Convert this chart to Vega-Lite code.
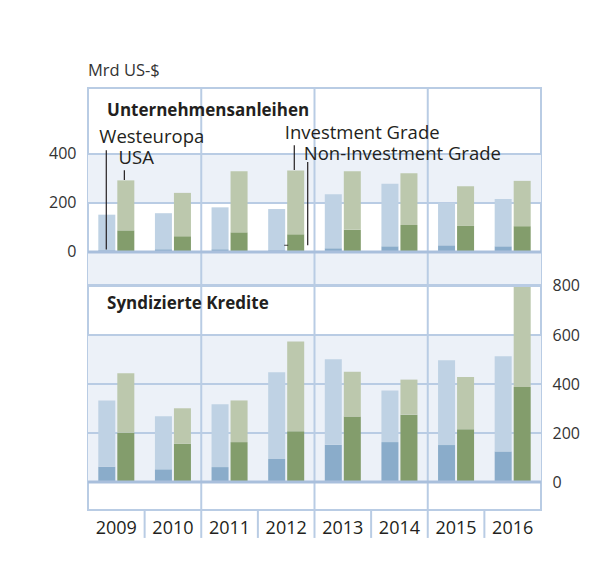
{
  "$schema": "https://vega.github.io/schema/vega-lite/v6.json",
  "autosize": {"type": "pad"},
  "padding": {"left": 47, "top": 61, "right": 10, "bottom": 10},
  "background": "white",
  "config": {
    "font": "Open Sans",
    "view": {"stroke": "#b9cce4", "strokeWidth": 2},
    "axis": {"labelColor": "#333", "labelFont": "Open Sans"}
  },
  "datasets": {
    "bars": [
      {"panel": "Unternehmensanleihen", "year": "2009", "region": "Westeuropa", "grade": "Non-Investment Grade", "value": 7},
      {"panel": "Unternehmensanleihen", "year": "2009", "region": "Westeuropa", "grade": "Investment Grade", "value": 145},
      {"panel": "Unternehmensanleihen", "year": "2009", "region": "USA", "grade": "Non-Investment Grade", "value": 88},
      {"panel": "Unternehmensanleihen", "year": "2009", "region": "USA", "grade": "Investment Grade", "value": 204},
      {"panel": "Unternehmensanleihen", "year": "2010", "region": "Westeuropa", "grade": "Non-Investment Grade", "value": 11},
      {"panel": "Unternehmensanleihen", "year": "2010", "region": "Westeuropa", "grade": "Investment Grade", "value": 147},
      {"panel": "Unternehmensanleihen", "year": "2010", "region": "USA", "grade": "Non-Investment Grade", "value": 64},
      {"panel": "Unternehmensanleihen", "year": "2010", "region": "USA", "grade": "Investment Grade", "value": 177},
      {"panel": "Unternehmensanleihen", "year": "2011", "region": "Westeuropa", "grade": "Non-Investment Grade", "value": 11},
      {"panel": "Unternehmensanleihen", "year": "2011", "region": "Westeuropa", "grade": "Investment Grade", "value": 171},
      {"panel": "Unternehmensanleihen", "year": "2011", "region": "USA", "grade": "Non-Investment Grade", "value": 80},
      {"panel": "Unternehmensanleihen", "year": "2011", "region": "USA", "grade": "Investment Grade", "value": 249},
      {"panel": "Unternehmensanleihen", "year": "2012", "region": "Westeuropa", "grade": "Non-Investment Grade", "value": 7},
      {"panel": "Unternehmensanleihen", "year": "2012", "region": "Westeuropa", "grade": "Investment Grade", "value": 168},
      {"panel": "Unternehmensanleihen", "year": "2012", "region": "USA", "grade": "Non-Investment Grade", "value": 72},
      {"panel": "Unternehmensanleihen", "year": "2012", "region": "USA", "grade": "Investment Grade", "value": 260},
      {"panel": "Unternehmensanleihen", "year": "2013", "region": "Westeuropa", "grade": "Non-Investment Grade", "value": 15},
      {"panel": "Unternehmensanleihen", "year": "2013", "region": "Westeuropa", "grade": "Investment Grade", "value": 220},
      {"panel": "Unternehmensanleihen", "year": "2013", "region": "USA", "grade": "Non-Investment Grade", "value": 91},
      {"panel": "Unternehmensanleihen", "year": "2013", "region": "USA", "grade": "Investment Grade", "value": 238},
      {"panel": "Unternehmensanleihen", "year": "2014", "region": "Westeuropa", "grade": "Non-Investment Grade", "value": 23},
      {"panel": "Unternehmensanleihen", "year": "2014", "region": "Westeuropa", "grade": "Investment Grade", "value": 255},
      {"panel": "Unternehmensanleihen", "year": "2014", "region": "USA", "grade": "Non-Investment Grade", "value": 110},
      {"panel": "Unternehmensanleihen", "year": "2014", "region": "USA", "grade": "Investment Grade", "value": 211},
      {"panel": "Unternehmensanleihen", "year": "2015", "region": "Westeuropa", "grade": "Non-Investment Grade", "value": 27},
      {"panel": "Unternehmensanleihen", "year": "2015", "region": "Westeuropa", "grade": "Investment Grade", "value": 174},
      {"panel": "Unternehmensanleihen", "year": "2015", "region": "USA", "grade": "Non-Investment Grade", "value": 106},
      {"panel": "Unternehmensanleihen", "year": "2015", "region": "USA", "grade": "Investment Grade", "value": 162},
      {"panel": "Unternehmensanleihen", "year": "2016", "region": "Westeuropa", "grade": "Non-Investment Grade", "value": 23},
      {"panel": "Unternehmensanleihen", "year": "2016", "region": "Westeuropa", "grade": "Investment Grade", "value": 193},
      {"panel": "Unternehmensanleihen", "year": "2016", "region": "USA", "grade": "Non-Investment Grade", "value": 105},
      {"panel": "Unternehmensanleihen", "year": "2016", "region": "USA", "grade": "Investment Grade", "value": 185},
      {"panel": "Syndizierte Kredite", "year": "2009", "region": "Westeuropa", "grade": "Non-Investment Grade", "value": 63},
      {"panel": "Syndizierte Kredite", "year": "2009", "region": "Westeuropa", "grade": "Investment Grade", "value": 270},
      {"panel": "Syndizierte Kredite", "year": "2009", "region": "USA", "grade": "Non-Investment Grade", "value": 201},
      {"panel": "Syndizierte Kredite", "year": "2009", "region": "USA", "grade": "Investment Grade", "value": 243},
      {"panel": "Syndizierte Kredite", "year": "2010", "region": "Westeuropa", "grade": "Non-Investment Grade", "value": 52},
      {"panel": "Syndizierte Kredite", "year": "2010", "region": "Westeuropa", "grade": "Investment Grade", "value": 216},
      {"panel": "Syndizierte Kredite", "year": "2010", "region": "USA", "grade": "Non-Investment Grade", "value": 156},
      {"panel": "Syndizierte Kredite", "year": "2010", "region": "USA", "grade": "Investment Grade", "value": 145},
      {"panel": "Syndizierte Kredite", "year": "2011", "region": "Westeuropa", "grade": "Non-Investment Grade", "value": 61},
      {"panel": "Syndizierte Kredite", "year": "2011", "region": "Westeuropa", "grade": "Investment Grade", "value": 256},
      {"panel": "Syndizierte Kredite", "year": "2011", "region": "USA", "grade": "Non-Investment Grade", "value": 163},
      {"panel": "Syndizierte Kredite", "year": "2011", "region": "USA", "grade": "Investment Grade", "value": 170},
      {"panel": "Syndizierte Kredite", "year": "2012", "region": "Westeuropa", "grade": "Non-Investment Grade", "value": 94},
      {"panel": "Syndizierte Kredite", "year": "2012", "region": "Westeuropa", "grade": "Investment Grade", "value": 354},
      {"panel": "Syndizierte Kredite", "year": "2012", "region": "USA", "grade": "Non-Investment Grade", "value": 207},
      {"panel": "Syndizierte Kredite", "year": "2012", "region": "USA", "grade": "Investment Grade", "value": 366},
      {"panel": "Syndizierte Kredite", "year": "2013", "region": "Westeuropa", "grade": "Non-Investment Grade", "value": 152},
      {"panel": "Syndizierte Kredite", "year": "2013", "region": "Westeuropa", "grade": "Investment Grade", "value": 349},
      {"panel": "Syndizierte Kredite", "year": "2013", "region": "USA", "grade": "Non-Investment Grade", "value": 267},
      {"panel": "Syndizierte Kredite", "year": "2013", "region": "USA", "grade": "Investment Grade", "value": 183},
      {"panel": "Syndizierte Kredite", "year": "2014", "region": "Westeuropa", "grade": "Non-Investment Grade", "value": 163},
      {"panel": "Syndizierte Kredite", "year": "2014", "region": "Westeuropa", "grade": "Investment Grade", "value": 211},
      {"panel": "Syndizierte Kredite", "year": "2014", "region": "USA", "grade": "Non-Investment Grade", "value": 275},
      {"panel": "Syndizierte Kredite", "year": "2014", "region": "USA", "grade": "Investment Grade", "value": 143},
      {"panel": "Syndizierte Kredite", "year": "2015", "region": "Westeuropa", "grade": "Non-Investment Grade", "value": 151},
      {"panel": "Syndizierte Kredite", "year": "2015", "region": "Westeuropa", "grade": "Investment Grade", "value": 346},
      {"panel": "Syndizierte Kredite", "year": "2015", "region": "USA", "grade": "Non-Investment Grade", "value": 215},
      {"panel": "Syndizierte Kredite", "year": "2015", "region": "USA", "grade": "Investment Grade", "value": 214},
      {"panel": "Syndizierte Kredite", "year": "2016", "region": "Westeuropa", "grade": "Non-Investment Grade", "value": 125},
      {"panel": "Syndizierte Kredite", "year": "2016", "region": "Westeuropa", "grade": "Investment Grade", "value": 388},
      {"panel": "Syndizierte Kredite", "year": "2016", "region": "USA", "grade": "Non-Investment Grade", "value": 388},
      {"panel": "Syndizierte Kredite", "year": "2016", "region": "USA", "grade": "Investment Grade", "value": 408}
    ]
  },
  "spacing": 0,
  "bounds": "flush",
  "vconcat": [
    {
      "width": 453,
      "height": 197,
      "title": {"text": "Mrd US-$", "anchor": "start", "frame": "group", "fontSize": 16.5, "fontWeight": "normal", "color": "#333", "offset": 8},
      "resolve": {"scale": {"color": "independent"}},
      "layer": [
        {
          "data": {"values": [{"lo": 200, "hi": 400}, {"lo": -135, "hi": 0}]},
          "mark": {"type": "rect", "color": "#ecf1f8"},
          "encoding": {
            "y": {"field": "lo", "type": "quantitative", "scale": {"domain": [-135, 669], "nice": false, "zero": false},
                  "axis": {"values": [0, 200, 400], "grid": false, "domain": false, "ticks": false, "labelPadding": 12, "labelFontSize": 16, "title": null}},
            "y2": {"field": "hi"}
          }
        },
        {
          "data": {"values": [{"v": 200}, {"v": 400}]},
          "mark": {"type": "rule", "color": "#b9cce4", "strokeWidth": 2},
          "encoding": {"y": {"field": "v", "type": "quantitative"}}
        },
        {
          "data": {"values": [{"year": "2011"}, {"year": "2013"}, {"year": "2015"}]},
          "mark": {"type": "rule", "color": "#b9cce4", "strokeWidth": 2},
          "encoding": {"x": {"field": "year", "type": "ordinal", "bandPosition": 0, "scale": {"domain": ["2009","2010","2011","2012","2013","2014","2015","2016"], "paddingInner": 0, "paddingOuter": 0}, "axis": null}}
        },
        {
          "data": {"name": "bars"},
          "transform": [{"filter": "datum.panel == 'Unternehmensanleihen' && datum.region == 'Westeuropa'"}],
          "mark": {"type": "bar"},
          "encoding": {
            "x": {"field": "year", "type": "ordinal", "axis": null},
            "xOffset": {"field": "region", "scale": {"domain": ["Westeuropa", "USA"], "paddingInner": 0.105, "paddingOuter": 0.542}},
            "y": {"field": "value", "type": "quantitative", "stack": "zero"},
            "color": {"field": "grade", "scale": {"domain": ["Investment Grade", "Non-Investment Grade"], "range": ["#bfd2e4", "#8aacca"]}, "legend": null},
            "order": {"field": "grade", "sort": "descending"}
          }
        },
        {
          "data": {"name": "bars"},
          "transform": [{"filter": "datum.panel == 'Unternehmensanleihen' && datum.region == 'USA'"}],
          "mark": {"type": "bar"},
          "encoding": {
            "x": {"field": "year", "type": "ordinal", "axis": null},
            "xOffset": {"field": "region", "scale": {"domain": ["Westeuropa", "USA"], "paddingInner": 0.105, "paddingOuter": 0.542}},
            "y": {"field": "value", "type": "quantitative", "stack": "zero"},
            "color": {"field": "grade", "scale": {"domain": ["Investment Grade", "Non-Investment Grade"], "range": ["#bcc8ad", "#839d6c"]}, "legend": null},
            "order": {"field": "grade", "sort": "descending"}
          }
        },
        {
          "data": {"values": [{"v": 0}]},
          "mark": {"type": "rule", "color": "#a9bfdc", "strokeWidth": 3},
          "encoding": {"y": {"field": "v", "type": "quantitative"}}
        },
        {
          "data": {"values": [{"year": "2009", "label": "Unternehmensanleihen"}]},
          "mark": {"type": "text", "align": "left", "baseline": "middle", "fontSize": 17, "fontWeight": "bold", "color": "#231f20"},
          "encoding": {"x": {"field": "year", "type": "ordinal", "bandPosition": 0.336}, "y": {"datum": 575}, "text": {"field": "label"}}
        },
        {
          "data": {"values": [{"year": "2009", "label": "Westeuropa"}]},
          "mark": {"type": "text", "align": "left", "baseline": "middle", "fontSize": 18.5, "color": "#231f20"},
          "encoding": {"x": {"field": "year", "type": "ordinal", "bandPosition": 0.2}, "y": {"datum": 471}, "text": {"field": "label"}}
        },
        {
          "data": {"values": [{"year": "2009", "label": "USA"}]},
          "mark": {"type": "text", "align": "left", "baseline": "middle", "fontSize": 18.5, "color": "#231f20"},
          "encoding": {"x": {"field": "year", "type": "ordinal", "bandPosition": 0.54}, "y": {"datum": 384}, "text": {"field": "label"}}
        },
        {
          "data": {"values": [{"year": "2012", "label": "Investment Grade"}]},
          "mark": {"type": "text", "align": "left", "baseline": "middle", "fontSize": 18.5, "color": "#231f20"},
          "encoding": {"x": {"field": "year", "type": "ordinal", "bandPosition": 0.475}, "y": {"datum": 484}, "text": {"field": "label"}}
        },
        {
          "data": {"values": [{"year": "2012", "label": "Non-Investment Grade"}]},
          "mark": {"type": "text", "align": "left", "baseline": "middle", "fontSize": 18.5, "color": "#231f20"},
          "encoding": {"x": {"field": "year", "type": "ordinal", "bandPosition": 0.81}, "y": {"datum": 400}, "text": {"field": "label"}}
        },
        {
          "data": {"values": [{"year": "2009"}]},
          "mark": {"type": "rule", "color": "#231f20", "strokeWidth": 1.2},
          "encoding": {"x": {"field": "year", "type": "ordinal", "bandPosition": 0.323}, "y": {"datum": 415}, "y2": {"datum": 10}}
        },
        {
          "data": {"values": [{"year": "2009"}]},
          "mark": {"type": "rule", "color": "#231f20", "strokeWidth": 1.2},
          "encoding": {"x": {"field": "year", "type": "ordinal", "bandPosition": 0.642}, "y": {"datum": 333}, "y2": {"datum": 294}}
        },
        {
          "data": {"values": [{"year": "2012"}]},
          "mark": {"type": "rule", "color": "#231f20", "strokeWidth": 1.2},
          "encoding": {"x": {"field": "year", "type": "ordinal", "bandPosition": 0.643}, "y": {"datum": 435}, "y2": {"datum": 334}}
        },
        {
          "data": {"values": [{"year": "2012"}]},
          "mark": {"type": "rule", "color": "#231f20", "strokeWidth": 1.2},
          "encoding": {"x": {"field": "year", "type": "ordinal", "bandPosition": 0.88}, "y": {"datum": 367}, "y2": {"datum": 27}}
        },
        {
          "data": {"values": [{"year": "2012"}]},
          "mark": {"type": "tick", "orient": "horizontal", "size": 4, "thickness": 1.2, "color": "#231f20"},
          "encoding": {"x": {"field": "year", "type": "ordinal", "bandPosition": 0.849}, "y": {"datum": 27}}
        }
      ]
    },
    {
      "width": 453,
      "height": 225,
      "resolve": {"scale": {"color": "independent"}},
      "layer": [
        {
          "data": {"values": [{"lo": 0, "hi": 600}]},
          "mark": {"type": "rect", "color": "#ecf1f8"},
          "encoding": {
            "y": {"field": "lo", "type": "quantitative", "scale": {"domain": [-114, 804], "nice": false, "zero": false},
                  "axis": {"orient": "right", "values": [0, 200, 400, 600, 800], "grid": false, "domain": false, "ticks": false, "labelPadding": 11, "labelFontSize": 16, "title": null}},
            "y2": {"field": "hi"}
          }
        },
        {
          "data": {"values": [{"v": 200}, {"v": 400}, {"v": 600}, {"v": 800}]},
          "mark": {"type": "rule", "color": "#b9cce4", "strokeWidth": 2},
          "encoding": {"y": {"field": "v", "type": "quantitative"}}
        },
        {
          "data": {"values": [{"year": "2011"}, {"year": "2013"}, {"year": "2015"}]},
          "mark": {"type": "rule", "color": "#b9cce4", "strokeWidth": 2},
          "encoding": {"x": {"field": "year", "type": "ordinal", "bandPosition": 0, "scale": {"domain": ["2009","2010","2011","2012","2013","2014","2015","2016"], "paddingInner": 0, "paddingOuter": 0},
                 "axis": {"orient": "bottom", "ticks": false, "domain": false, "grid": false, "labelAngle": 0, "labelPadding": 9, "labelFontSize": 18, "labelColor": "#231f20", "title": null, "bandPosition": 0.5}}}
        },
        {
          "data": {"values": [{"year": "2010"}, {"year": "2011"}, {"year": "2012"}, {"year": "2013"}, {"year": "2014"}, {"year": "2015"}, {"year": "2016"}]},
          "mark": {"type": "rule", "color": "#b9cce4", "strokeWidth": 2},
          "encoding": {"x": {"field": "year", "type": "ordinal", "bandPosition": 0}, "y": {"datum": -114}, "y2": {"datum": -228}}
        },
        {
          "data": {"name": "bars"},
          "transform": [{"filter": "datum.panel == 'Syndizierte Kredite' && datum.region == 'Westeuropa'"}],
          "mark": {"type": "bar"},
          "encoding": {
            "x": {"field": "year", "type": "ordinal"},
            "xOffset": {"field": "region", "scale": {"domain": ["Westeuropa", "USA"], "paddingInner": 0.105, "paddingOuter": 0.542}},
            "y": {"field": "value", "type": "quantitative", "stack": "zero"},
            "color": {"field": "grade", "scale": {"domain": ["Investment Grade", "Non-Investment Grade"], "range": ["#bfd2e4", "#8aacca"]}, "legend": null},
            "order": {"field": "grade", "sort": "descending"}
          }
        },
        {
          "data": {"name": "bars"},
          "transform": [{"filter": "datum.panel == 'Syndizierte Kredite' && datum.region == 'USA'"}],
          "mark": {"type": "bar"},
          "encoding": {
            "x": {"field": "year", "type": "ordinal"},
            "xOffset": {"field": "region", "scale": {"domain": ["Westeuropa", "USA"], "paddingInner": 0.105, "paddingOuter": 0.542}},
            "y": {"field": "value", "type": "quantitative", "stack": "zero"},
            "color": {"field": "grade", "scale": {"domain": ["Investment Grade", "Non-Investment Grade"], "range": ["#bcc8ad", "#839d6c"]}, "legend": null},
            "order": {"field": "grade", "sort": "descending"}
          }
        },
        {
          "data": {"values": [{"v": 0}]},
          "mark": {"type": "rule", "color": "#a9bfdc", "strokeWidth": 3},
          "encoding": {"y": {"field": "v", "type": "quantitative"}}
        },
        {
          "data": {"values": [{"year": "2009", "label": "Syndizierte Kredite"}]},
          "mark": {"type": "text", "align": "left", "baseline": "middle", "fontSize": 17, "fontWeight": "bold", "color": "#231f20"},
          "encoding": {"x": {"field": "year", "type": "ordinal", "bandPosition": 0.336}, "y": {"datum": 727}, "text": {"field": "label"}}
        }
      ]
    }
  ]
}
